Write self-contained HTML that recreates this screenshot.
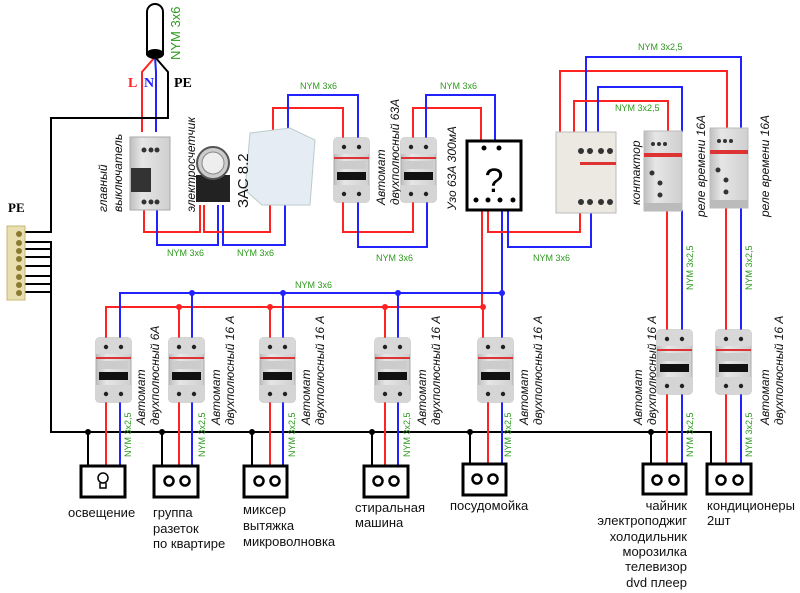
<!DOCTYPE html>
<html><head><meta charset="utf-8"><style>
html,body{margin:0;padding:0;background:#fff;}
svg{display:block;}
text{font-family:"Liberation Sans",sans-serif;}
text.serif{font-family:"Liberation Serif",serif;font-weight:bold;}
.g{fill:#2a9a1a;font-size:9px;}
.it{font-style:italic;font-size:12px;fill:#111;}
.lb{font-size:13px;fill:#111;}
</style></head><body>
<svg width="800" height="593" viewBox="0 0 800 593" xmlns="http://www.w3.org/2000/svg">
<defs>
<linearGradient id="gr" x1="0" x2="1"><stop offset="0" stop-color="#bfbfbf"/><stop offset="0.3" stop-color="#e6e6e6"/><stop offset="1" stop-color="#cfcfcf"/></linearGradient>
<g id="cb">
<rect x="0" y="0" width="35" height="64" rx="3" fill="url(#gr)" stroke="#aaa"/>
<rect x="0" y="0" width="35" height="16" fill="#d8d8d8"/>
<circle cx="10" cy="9" r="2.2" fill="#222"/><circle cx="25" cy="9" r="2.2" fill="#222"/>
<rect x="0" y="19" width="35" height="2" fill="#d33"/>
<rect x="3" y="23" width="29" height="8" fill="#ccc"/>
<rect x="3" y="34" width="29" height="8" fill="#111"/>
<rect x="0" y="47" width="35" height="17" fill="#d5d5d5"/>
<circle cx="10" cy="56" r="2.2" fill="#222"/><circle cx="25" cy="56" r="2.2" fill="#222"/>
</g>
<g id="rel">
<rect x="0" y="0" width="38" height="80" fill="url(#gr)" stroke="#bbb"/>
<circle cx="9" cy="13" r="2" fill="#333"/><circle cx="15" cy="13" r="2" fill="#333"/><circle cx="21" cy="13" r="2" fill="#333"/>
<rect x="0" y="22" width="38" height="4" fill="#d33"/>
<circle cx="8" cy="42" r="2.5" fill="#333"/><circle cx="16" cy="52" r="2.5" fill="#333"/><circle cx="16" cy="64" r="2.5" fill="#333"/>
<rect x="0" y="72" width="38" height="8" fill="#bbb"/>
</g>
</defs>

<g fill="none" stroke-width="2">
<path d="M155,57 L142,72 L142,132" stroke="#f22"/>
<path d="M155,57 L156,72 L156,132" stroke="#22f"/>
<path d="M155,57 L168,72 L168,118 L51,118 L51,232 L25,232" stroke="#000"/>
<path d="M25,242H51V432H711V463" stroke="#000"/>
<path d="M25,249H51M25,257H51M25,266H51M25,276H51M25,284H51M25,292H51" stroke="#000"/>
<path d="M144,210V232H200V205" stroke="#f22"/>
<path d="M157,210V245H218V205" stroke="#22f"/>
<path d="M204,205V232H270V205" stroke="#f22"/>
<path d="M223,205V245H285V205" stroke="#22f"/>
<path d="M273,130V108H343V138" stroke="#f22"/>
<path d="M288,135V95H358V138" stroke="#22f"/>
<path d="M343,202V232H413V202" stroke="#f22"/>
<path d="M358,202V247H427V202" stroke="#22f"/>
<path d="M413,138V108H481V140" stroke="#f22"/>
<path d="M426,138V95H495V140" stroke="#22f"/>
<path d="M482,210V307H106V338" stroke="#f22"/>
<path d="M502,210V293H120V338" stroke="#22f"/>
<path d="M179,307V338M270,307V338M385,307V338M483,307V338" stroke="#f22"/>
<path d="M192,293V338M283,293V338M398,293V338M502,293V338" stroke="#22f"/>
<path d="M488,210V232H580V213" stroke="#f22"/>
<path d="M508,210V247H591V213" stroke="#22f"/>
<path d="M560,133V71H727V130" stroke="#f22"/>
<path d="M586,133V57H741V130" stroke="#22f"/>
<path d="M574,133V101H668V132" stroke="#f22"/>
<path d="M598,133V87H682V132" stroke="#22f"/>
<path d="M667,210V463M726,207V463" stroke="#f22"/>
<path d="M682,210V463M741,207V463" stroke="#22f"/>
<path d="M106,400V466M179,400V466M270,400V466M385,400V466M488,400V466" stroke="#f22"/>
<path d="M120,400V466M192,400V466M283,400V466M398,400V466M502,400V466" stroke="#22f"/>
<path d="M88,432V466M162,432V466M252,432V466M372,432V466M470,432V466M651,432V463" stroke="#000"/>
</g>
<g fill="#000"><circle cx="88" cy="432" r="3"/><circle cx="162" cy="432" r="3"/><circle cx="252" cy="432" r="3"/><circle cx="372" cy="432" r="3"/><circle cx="470" cy="432" r="3"/><circle cx="651" cy="432" r="3"/></g>
<g fill="#22f"><circle cx="192" cy="293" r="3"/><circle cx="283" cy="293" r="3"/><circle cx="398" cy="293" r="3"/><circle cx="502" cy="293" r="3"/></g>
<g fill="#f22"><circle cx="179" cy="307" r="3"/><circle cx="270" cy="307" r="3"/><circle cx="385" cy="307" r="3"/><circle cx="483" cy="307" r="3"/></g>

<path d="M147,55V12a8,8 0 0 1 16,0V55" fill="#fff" stroke="#000" stroke-width="2"/>
<ellipse cx="155" cy="54" rx="9" ry="5" fill="#000"/>
<text transform="translate(180,60) rotate(-90)" fill="#2a9a1a" font-size="13">NYM 3x6</text>
<text class="serif" x="128" y="87" fill="#f22" font-size="14">L</text>
<text class="serif" x="144" y="87" fill="#22f" font-size="14">N</text>
<text class="serif" x="174" y="87" fill="#000" font-size="14">PE</text>
<text class="serif" x="8" y="212" fill="#000" font-size="13">PE</text>
<rect x="7" y="226" width="18" height="74" fill="#e8deb0" stroke="#c8b870"/>
<g fill="#8a7a30"><circle cx="19" cy="234" r="3"/><circle cx="19" cy="243" r="3"/><circle cx="19" cy="251" r="3"/><circle cx="19" cy="259" r="3"/><circle cx="19" cy="268" r="3"/><circle cx="19" cy="277" r="3"/><circle cx="19" cy="285" r="3"/><circle cx="19" cy="293" r="3"/></g>

<rect x="130" y="137" width="40" height="73" fill="url(#gr)" stroke="#aaa"/>
<circle cx="144" cy="150" r="2.5" fill="#333"/><circle cx="151" cy="150" r="2.5" fill="#333"/><circle cx="157" cy="150" r="2.5" fill="#333"/>
<rect x="131" y="168" width="20" height="24" fill="#333"/>
<circle cx="144" cy="202" r="2.5" fill="#333"/><circle cx="151" cy="202" r="2.5" fill="#333"/><circle cx="157" cy="202" r="2.5" fill="#333"/>
<text class="it" transform="translate(107,212) rotate(-90)">главный</text>
<text class="it" transform="translate(122,212) rotate(-90)">выключатель</text>
<rect x="196" y="175" width="34" height="27" fill="#222"/>
<circle cx="213" cy="163" r="16" fill="#ccc" stroke="#555" stroke-width="2"/>
<circle cx="213" cy="163" r="11" fill="#eee" stroke="#888"/>
<text class="it" transform="translate(195,212) rotate(-90)">электросчетчик</text>
<path d="M250,133L290,128L315,140L310,205L262,205L245,190Z" fill="#e6ecf4" stroke="#bcc"/>
<text transform="translate(248,208) rotate(-90)" font-size="15" fill="#111">ЗАС 8.2</text>
<use href="#cb" x="334" y="138"/>
<text class="it" transform="translate(385,205) rotate(-90)">Автомат</text>
<text class="it" transform="translate(399,205) rotate(-90)">двухполюсный 63А</text>
<use href="#cb" x="401" y="138"/>
<text class="it" transform="translate(456,210) rotate(-90)">Узо 63А 300мА</text>
<rect x="467" y="141" width="54" height="69" fill="#fff" stroke="#000" stroke-width="3"/>
<text x="494" y="192" font-size="34" text-anchor="middle" fill="#000">?</text>
<g fill="#000"><circle cx="484" cy="148" r="2.5"/><circle cx="499" cy="148" r="2.5"/><circle cx="476" cy="200" r="2.5"/><circle cx="488" cy="200" r="2.5"/><circle cx="500" cy="200" r="2.5"/><circle cx="513" cy="200" r="2.5"/></g>
<rect x="556" y="132" width="60" height="81" fill="#ece8e2" stroke="#bbb"/>
<circle cx="581" cy="151" r="3" fill="#333"/><circle cx="590" cy="151" r="3" fill="#333"/><circle cx="601" cy="151" r="3" fill="#333"/><circle cx="610" cy="151" r="3" fill="#333"/>
<rect x="580" y="162" width="36" height="3" fill="#d33"/>
<circle cx="581" cy="202" r="3" fill="#333"/><circle cx="590" cy="202" r="3" fill="#333"/><circle cx="601" cy="202" r="3" fill="#333"/><circle cx="610" cy="202" r="3" fill="#333"/>
<text class="it" transform="translate(640,205) rotate(-90)">контактор</text>
<use href="#rel" x="644" y="131"/>
<use href="#rel" x="710" y="128"/>
<text class="it" transform="translate(705,217) rotate(-90)">реле времени 16А</text>
<text class="it" transform="translate(769,217) rotate(-90)">реле времени 16А</text>

<text x="300" y="89" class="g">NYM 3x6</text>
<text x="440" y="89" class="g">NYM 3x6</text>
<text x="167" y="256" class="g">NYM 3x6</text>
<text x="237" y="256" class="g">NYM 3x6</text>
<text x="376" y="261" class="g">NYM 3x6</text>
<text x="533" y="261" class="g">NYM 3x6</text>
<text x="295" y="288" class="g">NYM 3x6</text>
<text x="638" y="50" class="g">NYM 3x2,5</text>
<text x="615" y="111" class="g">NYM 3x2,5</text>
<g class="g">
<text transform="translate(131,457) rotate(-90)">NYM 3x2,5</text>
<text transform="translate(205,457) rotate(-90)">NYM 3x2,5</text>
<text transform="translate(295,457) rotate(-90)">NYM 3x2,5</text>
<text transform="translate(410,457) rotate(-90)">NYM 3x2,5</text>
<text transform="translate(511,457) rotate(-90)">NYM 3x2,5</text>
<text transform="translate(693,457) rotate(-90)">NYM 3x2,5</text>
<text transform="translate(752,457) rotate(-90)">NYM 3x2,5</text>
<text transform="translate(693,290) rotate(-90)">NYM 3x2,5</text>
<text transform="translate(752,290) rotate(-90)">NYM 3x2,5</text>
</g>
<use href="#cb" x="96" y="338"/>
<use href="#cb" x="169" y="338"/>
<use href="#cb" x="260" y="338"/>
<use href="#cb" x="375" y="338"/>
<use href="#cb" x="478" y="338"/>
<use href="#cb" x="657" y="330"/>
<use href="#cb" x="716" y="330"/>
<g class="it">
<text transform="translate(145,425) rotate(-90)">Автомат</text>
<text transform="translate(159,425) rotate(-90)">двухполюсный 6А</text>
<text transform="translate(220,425) rotate(-90)">Автомат</text>
<text transform="translate(234,425) rotate(-90)">двухполюсный 16 А</text>
<text transform="translate(310,425) rotate(-90)">Автомат</text>
<text transform="translate(324,425) rotate(-90)">двухполюсный 16 А</text>
<text transform="translate(426,425) rotate(-90)">Автомат</text>
<text transform="translate(440,425) rotate(-90)">двухполюсный 16 А</text>
<text transform="translate(528,425) rotate(-90)">Автомат</text>
<text transform="translate(542,425) rotate(-90)">двухполюсный 16 А</text>
<text transform="translate(642,425) rotate(-90)">Автомат</text>
<text transform="translate(656,425) rotate(-90)">двухполюсный 16 А</text>
<text transform="translate(769,425) rotate(-90)">Автомат</text>
<text transform="translate(783,425) rotate(-90)">двухполюсный 16 А</text>
</g>
<g fill="#fff" stroke="#000" stroke-width="3">
<rect x="81" y="466" width="44" height="31"/>
<rect x="154" y="466" width="44" height="31"/>
<rect x="244" y="466" width="43" height="31"/>
<rect x="364" y="466" width="44" height="31"/>
<rect x="463" y="464" width="43" height="31"/>
<rect x="643" y="464" width="43" height="30"/>
<rect x="707" y="464" width="44" height="30"/>
</g>
<g fill="none" stroke="#000" stroke-width="2.5">
<circle cx="169" cy="481" r="4.5"/><circle cx="185" cy="481" r="4.5"/>
<circle cx="259" cy="481" r="4.5"/><circle cx="275" cy="481" r="4.5"/>
<circle cx="378" cy="481" r="4.5"/><circle cx="394" cy="481" r="4.5"/>
<circle cx="477" cy="479" r="4.5"/><circle cx="493" cy="479" r="4.5"/>
<circle cx="657" cy="480" r="4.5"/><circle cx="674" cy="480" r="4.5"/>
<circle cx="721" cy="480" r="4.5"/><circle cx="738" cy="480" r="4.5"/>
</g>
<g fill="none" stroke="#000" stroke-width="1.5"><circle cx="103" cy="478" r="5"/><path d="M100,483v5h6v-5"/></g>
<g class="lb">
<text x="68" y="517">освещение</text>
<text x="153" y="517">группа</text><text x="153" y="533">разеток</text><text x="153" y="548">по квартире</text>
<text x="243" y="514">миксер</text><text x="243" y="530">вытяжка</text><text x="243" y="546">микроволновка</text>
<text x="355" y="512">стиральная</text><text x="355" y="527">машина</text>
<text x="450" y="510">посудомойка</text>
<g text-anchor="end"><text x="687" y="510">чайник</text><text x="687" y="525">электроподжиг</text><text x="687" y="541">холодильник</text><text x="687" y="556">морозилка</text><text x="687" y="571">телевизор</text><text x="687" y="587">dvd плеер</text></g>
<text x="707" y="510">кондиционеры</text><text x="707" y="525">2шт</text>
</g>
</svg>
</body></html>
